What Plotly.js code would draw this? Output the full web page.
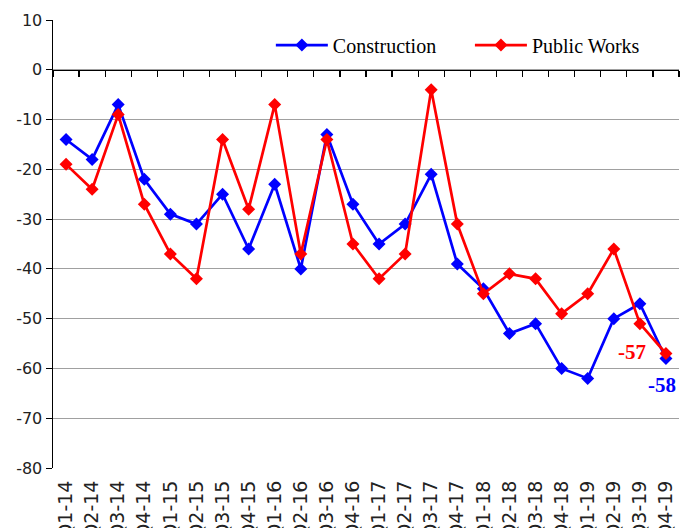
<!DOCTYPE html>
<html><head><meta charset="utf-8">
<script src="https://cdn.plot.ly/plotly-3.0.1.min.js"></script>
<style>html,body{margin:0;padding:0;background:#fff}#chart{width:680px;height:528px}</style>
</head><body><div id="chart"></div>
<script>
const quarters = ["Q1-14","Q2-14","Q3-14","Q4-14","Q1-15","Q2-15","Q3-15","Q4-15","Q1-16","Q2-16","Q3-16","Q4-16","Q1-17","Q2-17","Q3-17","Q4-17","Q1-18","Q2-18","Q3-18","Q4-18","Q1-19","Q2-19","Q3-19","Q4-19"];
const construction = [-14,-18,-7,-22,-29,-31,-25,-36,-23,-40,-13,-27,-35,-31,-21,-39,-44,-53,-51,-60,-62,-50,-47,-58];
const publicWorks = [-19,-24,-9,-27,-37,-42,-14,-28,-7,-37,-14,-35,-42,-37,-4,-31,-45,-41,-42,-49,-45,-36,-51,-57];
const yTicks = [10,0,-10,-20,-30,-40,-50,-60,-70,-80];

const traces = [
  {x: quarters, y: construction, name: "Construction", mode: "lines+markers", legend: "legend",
   line: {color: "#0000ff", width: 2.7}, marker: {symbol: "diamond", size: 10, color: "#0000ff"}},
  {x: quarters, y: publicWorks, name: "Public Works", mode: "lines+markers", legend: "legend2",
   line: {color: "#ff0000", width: 2.7}, marker: {symbol: "diamond", size: 10, color: "#ff0000"}},
  {x: quarters, y: construction, xaxis: "x2", mode: "markers", marker: {opacity: 0},
   showlegend: false, hoverinfo: "skip"}
];

const legendFont = {family: "Liberation Serif", size: 20, color: "#000"};
const layout = {
  width: 680, height: 528,
  margin: {l: 53, r: 1, t: 20, b: 60},
  paper_bgcolor: "#fff", plot_bgcolor: "#fff",
  showlegend: true,
  legend: {x: 0.348, y: 0.944, xanchor: "left", yanchor: "middle", font: legendFont,
    itemwidth: 52, bgcolor: "rgba(0,0,0,0)"},
  legend2: {x: 0.666, y: 0.944, xanchor: "left", yanchor: "middle", font: legendFont,
    itemwidth: 52, bgcolor: "rgba(0,0,0,0)"},
  xaxis: {type: "category", categoryarray: quarters, range: [-0.5, 23.5],
    tickangle: -90, showline: false, showgrid: false, ticks: "outside", ticklen: 4,
    tickcolor: "rgba(0,0,0,0)",
    tickfont: {family: "DejaVu Sans", size: 19, color: "#222"}, automargin: false},
  xaxis2: {type: "category", categoryarray: quarters, range: [-0.5, 23.5], overlaying: "x",
    anchor: "free", position: 80/90, showline: true, linecolor: "#000", linewidth: 1.5,
    ticks: "outside", tickson: "boundaries", ticklen: 6, tickcolor: "#000", tickwidth: 1.2,
    showticklabels: false, showgrid: false, zeroline: false},
  yaxis: {range: [-80, 10], tickvals: yTicks, ticktext: yTicks.map(String),
    showgrid: true, gridcolor: "#a0a0a0", gridwidth: 1, zeroline: false,
    showline: true, linecolor: "#000", linewidth: 1.5, ticks: "outside", ticklen: 6,
    tickcolor: "#000", tickfont: {family: "DejaVu Sans", size: 16, color: "#222"},
    automargin: false},
  annotations: [
    {x: "Q3-19", y: -56.6, text: "<b>-57</b>", showarrow: false, xshift: -8,
     font: {family: "Liberation Serif", size: 21, color: "#ff0000"}},
    {x: "Q4-19", y: -63.3, text: "<b>-58</b>", showarrow: false, xshift: -4,
     font: {family: "Liberation Serif", size: 21, color: "#0000ff"}}
  ]
};
Plotly.newPlot("chart", traces, layout, {displayModeBar: false, staticPlot: true});
</script></body></html>
